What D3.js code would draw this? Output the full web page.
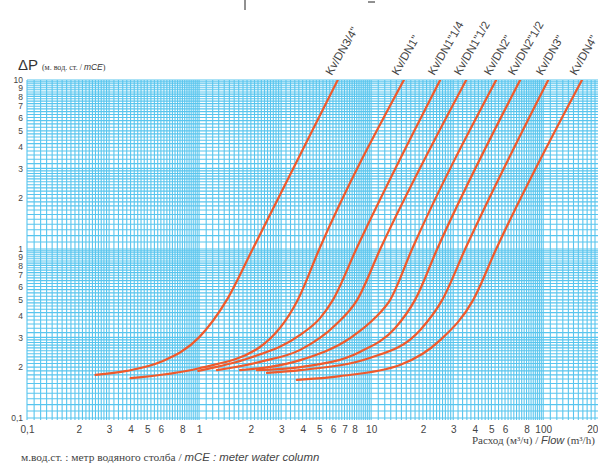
<!DOCTYPE html>
<html><head><meta charset="utf-8">
<script src="https://cdn.jsdelivr.net/npm/d3@7"></script>
<style>body{margin:0;background:#fff}svg{display:block}</style>
</head><body>
<svg id="c" width="598" height="464"></svg>
<script>
// ---- data ----
const seriesNames = ['Kv/DN3/4"', 'Kv/DN1"', 'Kv/DN1"1/4', 'Kv/DN1"1/2', 'Kv/DN2"', 'Kv/DN2"1/2', 'Kv/DN3"', 'Kv/DN4"'];
const flowDN34  = [0.25, 0.38, 0.6, 1.0, 1.45, 2.05, 6.4];
const dpDN34    = [0.18, 0.19, 0.215, 0.3, 0.5, 1.0, 10];
const flowDN1   = [0.4, 1.0, 2.26, 3.75, 5.0, 15.5];
const dpDN1     = [0.172, 0.197, 0.263, 0.5, 1.0, 10];
const flowDN114 = [0.99, 1.98, 3.87, 5.05, 6.0, 8.2, 25.2];
const dpDN114   = [0.19, 0.227, 0.31, 0.39, 0.5, 1.0, 10];
const flowDN112 = [1.27, 2.26, 3.87, 6.2, 8.3, 11.3, 35.7];
const dpDN112   = [0.192, 0.215, 0.253, 0.355, 0.5, 1.0, 10];
const flowDN2   = [1.73, 3.87, 7.55, 10.5, 12.9, 17.3, 53.3];
const dpDN2     = [0.192, 0.22, 0.297, 0.39, 0.5, 1.0, 10];
const flowDN212 = [2.17, 3.87, 8.6, 13.8, 18.0, 24.2, 73.5];
const dpDN212   = [0.192, 0.2, 0.246, 0.341, 0.5, 1.0, 10];
const flowDN3   = [2.48, 3.87, 9.9, 19.3, 25.9, 35.2, 107];
const dpDN3     = [0.185, 0.192, 0.227, 0.332, 0.5, 1.0, 10];
const flowDN4   = [3.7, 6.6, 14.7, 25.2, 39.2, 53.3, 168];
const dpDN4     = [0.168, 0.177, 0.206, 0.289, 0.5, 1.0, 10];

const xTickValues = [0.1,0.2,0.3,0.4,0.5,0.6,0.8,1,2,3,4,5,6,7,8,10,20,30,40,50,60,80,100,200];
const xTickLabels = ["0,1","2","3","4","5","6","8","1","2","3","4","5","6","7","8","10","2","3","4","5","6","8","100","200"];
const yTickValues = [10,9,8,7,6,5,4,3,2,1,0.9,0.8,0.7,0.6,0.5,0.4,0.3,0.2,0.1];
const yTickLabels = ["10","9","8","7","6","5","4","3","2","1","9","8","7","6","5","4","3","2","0,1"];

const flows = [flowDN34, flowDN1, flowDN114, flowDN112, flowDN2, flowDN212, flowDN3, flowDN4];
const dps   = [dpDN34, dpDN1, dpDN114, dpDN112, dpDN2, dpDN212, dpDN3, dpDN4];

// ---- layout ----
const L = 27, R = 595, T = 80, B = 418;
const svg = d3.select('#c');
const x = d3.scaleLog().domain([0.1, 200]).range([L, R]);
const y = d3.scaleLog().domain([0.1, 10]).range([B, T]);

// grid values (log paper subdivisions)
function gridVals(lo, hi) {
  const out = [];
  const subs = [[1, 2, 0.1], [2, 3, 0.1], [3, 5, 0.2], [5, 10, 0.25]];
  for (let d = lo; d < hi; d *= 10) {
    subs.forEach(([a, b, s]) => {
      for (let m = a; m < b - 1e-9; m += s) out.push(+(m * d).toPrecision(6));
    });
  }
  out.push(hi);
  return out;
}
const gx = gridVals(0.1, 1000).filter(v => v <= 200.0001);
const gy = gridVals(0.1, 10);

const grid = svg.append('g');
grid.selectAll('line.v').data(gx).join('line')
  .attr('x1', d => x(d)).attr('x2', d => x(d)).attr('y1', T).attr('y2', B + 2)
  .attr('stroke', '#58c5ee').attr('stroke-width', 1.1);
grid.selectAll('line.h').data(gy).join('line')
  .attr('y1', d => y(d)).attr('y2', d => y(d)).attr('x1', L).attr('x2', 598)
  .attr('stroke', '#58c5ee').attr('stroke-width', 1.1);

// curves
svg.append('clipPath').attr('id', 'clip').append('rect')
  .attr('x', L).attr('y', T).attr('width', 598 - L).attr('height', B - T);
const line = d3.line().x(d => x(d[0])).y(d => y(d[1])).curve(d3.curveMonotoneX);
svg.append('g').attr('clip-path', 'url(#clip)').selectAll('path')
  .data(flows.map((f, i) => f.map((q, j) => [q, dps[i][j]])))
  .join('path').attr('d', line)
  .attr('fill', 'none').attr('stroke', '#ef5a2c').attr('stroke-width', 2.2)
  .attr('stroke-linecap', 'round');

// curve labels
svg.append('g').selectAll('text').data(seriesNames).join('text')
  .attr('transform', (d, i) => `translate(${x(flows[i][flows[i].length - 1]) - 6},${T - 4}) rotate(-60)`)
  .attr('font-family', 'Liberation Sans, sans-serif')
  .attr('font-size', 11.5).attr('fill', '#444')
  .text(d => d);

// axes
const fontAx = 'Liberation Sans Narrow, Liberation Sans, sans-serif';
const xAxis = d3.axisBottom(x).tickValues(xTickValues)
  .tickFormat((d, i) => xTickLabels[i]).tickSize(0).tickPadding(6);
const gxA = svg.append('g').attr('transform', `translate(0,${B + 2})`).call(xAxis);
gxA.select('.domain').remove();
gxA.selectAll('text').attr('font-family', fontAx).attr('font-size', 10).attr('fill', '#444');

const yAxis = d3.axisLeft(y).tickValues(yTickValues)
  .tickFormat((d, i) => yTickLabels[i]).tickSize(0).tickPadding(3);
const gyA = svg.append('g').attr('transform', `translate(${L - 1},0)`).call(yAxis);
gyA.select('.domain').remove();
gyA.selectAll('text').attr('font-family', fontAx).attr('font-size', 8.5).attr('fill', '#444');

// titles
const t1 = svg.append('text').attr('x', 18).attr('y', 70).attr('fill', '#333')
  .attr('font-family', 'Liberation Sans, sans-serif');
t1.append('tspan').attr('font-size', 15).text('ΔP ');
t1.append('tspan').attr('font-size', 8).attr('font-family', 'Liberation Serif, serif').text('(м. вод. ст. / ');
t1.append('tspan').attr('font-size', 8.5).attr('font-style', 'italic').text('mCE');
t1.append('tspan').attr('font-size', 8).attr('font-family', 'Liberation Serif, serif').text(')');

const t2 = svg.append('text').attr('x', 472).attr('y', 444).attr('fill', '#444').attr('font-size', 11);
t2.append('tspan').attr('font-family', 'Liberation Serif, serif').text('Расход (м³/ч) / ');
t2.append('tspan').attr('font-family', 'Liberation Sans, sans-serif').attr('font-style', 'italic').text('Flow');
t2.append('tspan').attr('font-family', 'Liberation Serif, serif').text(' (m³/h)');

const t3 = svg.append('text').attr('x', 21).attr('y', 461).attr('fill', '#444').attr('font-size', 11.4);
t3.append('tspan').attr('font-family', 'Liberation Serif, serif').text('м.вод.ст. : метр водяного столба / ');
t3.append('tspan').attr('font-family', 'Liberation Sans, sans-serif').attr('font-style', 'italic').text('mCE : meter water column');

// small marks at the very top (cropped artefacts)
svg.append('line').attr('x1', 245).attr('x2', 245).attr('y1', 0).attr('y2', 10).attr('stroke', '#222').attr('stroke-width', 1);
svg.append('line').attr('x1', 368).attr('x2', 375).attr('y1', 2).attr('y2', 2).attr('stroke', '#222').attr('stroke-width', 1);
</script>
</body></html>
